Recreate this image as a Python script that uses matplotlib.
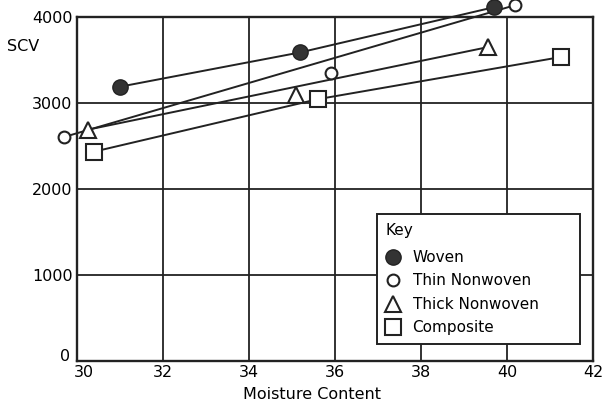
import matplotlib.pyplot as plt
from matplotlib.transforms import ScaledTranslation

# data
moisture_woven = [31.0, 35.2, 39.7]
scv_woven = [3190, 3590, 4115]
moisture_thin = [29.7, 35.9, 40.2]
scv_thin = [2605, 3345, 4140]
moisture_thick = [30.25, 35.1, 39.55]
scv_thick = [2690, 3090, 3650]
moisture_comp = [30.4, 35.6, 41.25]
scv_comp = [2435, 3045, 3535]

labels = ['Woven', 'Thin Nonwoven', 'Thick Nonwoven', 'Composite']
xticks = [30, 32, 34, 36, 38, 40, 42]
yticks = [0, 1000, 2000, 3000, 4000]

fig = plt.figure(figsize=(6.05, 4.07), dpi=100)
ax = fig.add_axes([0.127, 0.113, 0.853, 0.845])

# trend lines (woven and composite go through every point, the others end to end)
ax.plot(moisture_woven, scv_woven, color='#222222', lw=1.4, zorder=2, clip_on=False)
ax.plot(moisture_comp, scv_comp, color='#222222', lw=1.4, zorder=2, clip_on=False)
ax.plot([moisture_thin[0], moisture_thin[-1]], [scv_thin[0], scv_thin[-1]],
        color='#222222', lw=1.4, zorder=2, clip_on=False)
ax.plot([moisture_thick[0], moisture_thick[-1]], [scv_thick[0], scv_thick[-1]],
        color='#222222', lw=1.4, zorder=2, clip_on=False)

# markers
ax.plot(moisture_woven, scv_woven, 'o', ms=11, mfc='#333333', mec='#222222',
        ls='none', zorder=4, clip_on=False, label=labels[0])
ax.plot(moisture_thin, scv_thin, 'o', ms=8.5, mfc='white', mec='#222222', mew=1.5,
        ls='none', zorder=4, clip_on=False, label=labels[1])
ax.plot(moisture_thick, scv_thick, '^', ms=11, mfc='white', mec='#222222', mew=1.5,
        ls='none', zorder=4, clip_on=False, label=labels[2])
ax.plot(moisture_comp, scv_comp, 's', ms=12, mfc='white', mec='#222222', mew=1.5,
        ls='none', zorder=4, clip_on=False, label=labels[3])

ax.set_xlim(30, 42)
ax.set_ylim(0, 4000)
ax.set_xticks(xticks)
ax.set_yticks(yticks)
ax.tick_params(length=0, labelsize=11.5, pad=3)
ax.grid(True, color='#222222', lw=1.3)
ax.set_axisbelow(True)
for s in ax.spines.values():
    s.set_linewidth(1.7)
    s.set_color('#222222')

# corner labels "0" and "30" are nudged apart like in the original
lbl0 = ax.get_yticklabels()[0]
lbl0.set_transform(lbl0.get_transform() + ScaledTranslation(-2/72, 4/72, fig.dpi_scale_trans))
lbl30 = ax.get_xticklabels()[0]
lbl30.set_transform(lbl30.get_transform() + ScaledTranslation(5/72, 0, fig.dpi_scale_trans))

ax.set_xlabel('Moisture Content', fontsize=11.5)
ax.xaxis.set_label_coords(0.455, -0.075)
fig.text(0.012, 0.875, 'SCV', fontsize=11.5)

leg = ax.legend(title='Key', loc='upper left', bbox_to_anchor=(0.581, 0.049, 0.394, 0.378),
                mode='expand', fontsize=11, title_fontsize=11, frameon=True,
                fancybox=False, edgecolor='#222222', framealpha=1, borderpad=0.55,
                handletextpad=0.7, labelspacing=0.55, handlelength=1.1,
                borderaxespad=0)
leg._legend_box.align = 'left'
leg._legend_box.sep = 9
leg.get_frame().set_linewidth(1.4)
leg.set_zorder(5)

fig.savefig('out.png', dpi=100)
